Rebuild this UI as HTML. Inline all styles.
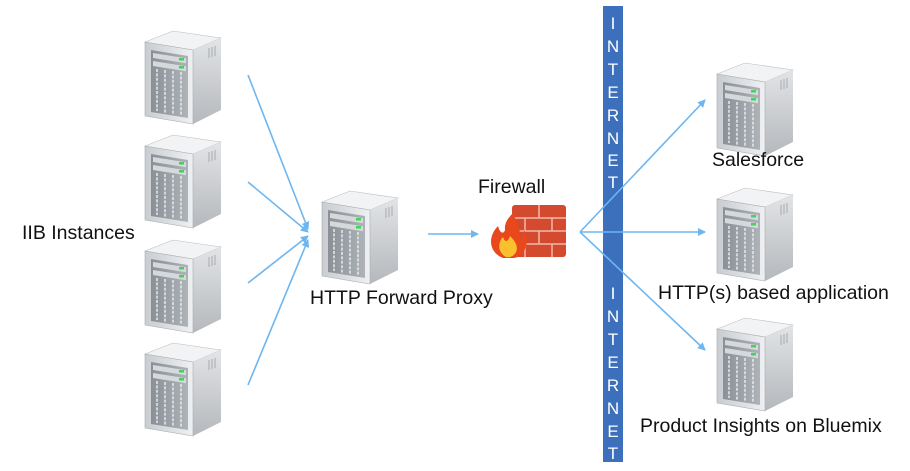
<!DOCTYPE html>
<html><head><meta charset="utf-8"><style>
body{margin:0;background:#fff;width:910px;height:471px;overflow:hidden}
svg{display:block}
text{font-family:"Liberation Sans",sans-serif;fill:#111}
</style></head><body>
<svg width="910" height="471" viewBox="0 0 910 471" xmlns="http://www.w3.org/2000/svg">
<defs>
<linearGradient id="fr" x1="0" x2="1"><stop offset="0" stop-color="#c9ccd0"/><stop offset="1" stop-color="#eef0f2"/></linearGradient>
<linearGradient id="sd" x1="0" x2="0" y1="0" y2="1"><stop offset="0" stop-color="#e2e4e6"/><stop offset="1" stop-color="#b5b8bc"/></linearGradient>
<linearGradient id="pn" x1="0" x2="1"><stop offset="0" stop-color="#8a9096"/><stop offset="1" stop-color="#aeb3b8"/></linearGradient>
<marker id="ar" markerWidth="8" markerHeight="8" refX="7" refY="4" orient="auto" markerUnits="userSpaceOnUse"><path d="M0,0 L8,4 L0,8 Z" fill="#6db6f0"/></marker>
<symbol id="srv" viewBox="0 0 80 97">
<polygon points="2,14 30,3 78,10 50,22" fill="#f2f3f4" stroke="#b9bcc0" stroke-width="0.6"/>
<polygon points="50,22 78,10 78,82 50,96" fill="url(#sd)"/>
<polygon points="2,14 50,22 50,96 2,88" fill="url(#fr)" stroke="#a9adb2" stroke-width="0.6"/>
<polygon points="8,22 45,28 45,90 8,84" fill="url(#pn)"/>
<rect x="10" y="25" width="33" height="5" fill="#d6d9dc" transform="skewY(9)" transform-origin="10 25"/>
<rect x="10" y="33" width="33" height="5" fill="#d6d9dc" transform="skewY(9)" transform-origin="10 33"/>
<rect x="36" y="30" width="5" height="2.5" fill="#3fd45a"/>
<rect x="36" y="38" width="5" height="2.5" fill="#3fd45a"/>
<g stroke="#e4e6e8" stroke-width="1.6" stroke-dasharray="3 1.4">
<line x1="14" y1="41" x2="14" y2="83"/><line x1="22" y1="42" x2="22" y2="85"/><line x1="30" y1="43" x2="30" y2="86"/><line x1="38" y1="44" x2="38" y2="87"/>
</g>
<g stroke="#9a9fa4" stroke-width="0.8"><line x1="66" y1="20" x2="66" y2="30"/><line x1="69" y1="19" x2="69" y2="29"/><line x1="72" y1="18" x2="72" y2="28"/></g>
</symbol>
</defs>
<use href="#srv" x="143" y="28" width="80" height="97"/>
<use href="#srv" x="143" y="132" width="80" height="97"/>
<use href="#srv" x="143" y="237" width="80" height="97"/>
<use href="#srv" x="143" y="340" width="80" height="97"/>
<use href="#srv" x="320" y="188" width="80" height="97"/>
<use href="#srv" x="715" y="60" width="80" height="97"/>
<use href="#srv" x="715" y="185" width="80" height="97"/>
<use href="#srv" x="715" y="315" width="80" height="97"/>
<g stroke="#6db6f0" stroke-width="1.6" fill="none" marker-end="url(#ar)">
<line x1="248" y1="75" x2="308" y2="229"/>
<line x1="248" y1="182" x2="308" y2="232"/>
<line x1="248" y1="283" x2="308" y2="236"/>
<line x1="248" y1="385" x2="308" y2="240"/>
<line x1="428" y1="234" x2="478" y2="234"/>
</g>
<rect x="603" y="6" width="20" height="456" fill="#3c70bc"/>
<g stroke="#6db6f0" stroke-width="1.6" fill="none" marker-end="url(#ar)">
<line x1="580" y1="232" x2="705" y2="100"/>
<line x1="580" y1="232" x2="705" y2="232"/>
<line x1="580" y1="232" x2="705" y2="350"/>
</g>
<g>
<rect x="512" y="205" width="54" height="52" fill="#d34a2e" rx="3"/>
<g stroke="#f1b9a8" stroke-width="1.5">
<line x1="512" y1="218" x2="566" y2="218"/><line x1="512" y1="231" x2="566" y2="231"/><line x1="512" y1="244" x2="566" y2="244"/>
<line x1="539" y1="205" x2="539" y2="218"/><line x1="525" y1="218" x2="525" y2="231"/><line x1="552" y1="218" x2="552" y2="231"/>
<line x1="539" y1="231" x2="539" y2="244"/><line x1="525" y1="244" x2="525" y2="257"/><line x1="552" y1="244" x2="552" y2="257"/>
</g>
<path d="M503,258 C488,252 488,236 498,226 C500,234 504,234 505,230 C504,222 510,216 514,212 C514,222 522,228 520,240 C524,236 524,232 524,230 C530,240 526,256 514,258 Z" fill="#e8481c"/>
<path d="M506,257 C497,252 498,242 503,237 C505,243 508,242 510,236 C514,240 519,246 516,252 C514,256 510,258 506,257 Z" fill="#fbc02d"/>
</g>
<g font-size="19.5">
<text x="22" y="239">IIB Instances</text>
<text x="310" y="304">HTTP Forward Proxy</text>
<text x="478" y="193">Firewall</text>
<text x="712" y="166">Salesforce</text>
<text x="658" y="299">HTTP(s) based application</text>
<text x="640" y="432">Product Insights on Bluemix</text>
</g>
<g font-size="17" text-anchor="middle">
<text x="613" y="29" fill="#fff" style="fill:#fff">I</text><text x="613" y="52" style="fill:#fff">N</text><text x="613" y="75" style="fill:#fff">T</text><text x="613" y="98" style="fill:#fff">E</text><text x="613" y="121" style="fill:#fff">R</text><text x="613" y="144" style="fill:#fff">N</text><text x="613" y="166" style="fill:#fff">E</text><text x="613" y="188" style="fill:#fff">T</text>
<text x="613" y="299" style="fill:#fff">I</text><text x="613" y="322" style="fill:#fff">N</text><text x="613" y="345" style="fill:#fff">T</text><text x="613" y="368" style="fill:#fff">E</text><text x="613" y="391" style="fill:#fff">R</text><text x="613" y="414" style="fill:#fff">N</text><text x="613" y="437" style="fill:#fff">E</text><text x="613" y="459" style="fill:#fff">T</text>
</g>
</svg>
</body></html>
